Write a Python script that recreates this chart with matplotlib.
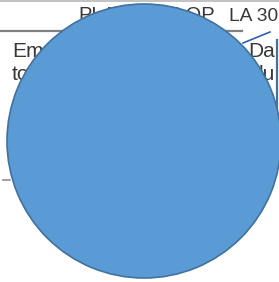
import matplotlib
matplotlib.use("Agg")
import matplotlib.pyplot as plt
from matplotlib.lines import Line2D

# Data
categories = ["Total"]
values = [100]
slice_colors = ["#5B9BD5"]

W, H = 279, 282
fig = plt.figure(figsize=(W / 100, H / 100), dpi=100)
fig.patch.set_facecolor("white")

def fx(px):
    return px / W

def fy(py):
    return 1 - py / H

# background slide elements (behind the pie)
fig.add_artist(Line2D([0, 1], [fy(0.5), fy(0.5)], color="#b8b8b8", lw=1.2, zorder=0))
fig.add_artist(Line2D([fx(0), fx(242)], [fy(30.5), fy(30.5)], color="#6a6a6a", lw=1.6, zorder=0, alpha=0.85))
fig.add_artist(Line2D([fx(243), fx(270)], [fy(43), fy(32)], color="#2f5fb0", lw=1.2, zorder=0))
fig.add_artist(Line2D([fx(3), fx(10)], [fy(180), fy(180)], color="#909090", lw=1.2, zorder=0))
fig.add_artist(Line2D([fx(276.5), fx(276.5), fx(280)], [fy(40), fy(147), fy(147)],
                      color="#41719C", lw=1.6, zorder=0))

tc = "#383838"
fam = ["Liberation Sans", "DejaVu Sans"]
kw = dict(family=fam, color=tc, va="baseline", zorder=0)
fig.text(fx(78), fy(21), "PLAN", fontsize=14.5, ha="left", **kw)
fig.text(fx(215), fy(21), "ELOP", fontsize=14.5, ha="right", **kw)
fig.text(fx(229), fy(21), "LA 30", fontsize=13.8, ha="left", **kw)
fig.text(fx(12), fy(57), "Employees", fontsize=15, ha="left", **kw)
fig.text(fx(12), fy(80), "total", fontsize=15, ha="left", **kw)
fig.text(fx(248), fy(57), "Da", fontsize=15, ha="left", **kw)
fig.text(fx(251), fy(80), "du", fontsize=15, ha="left", **kw)

# pie chart with a single slice
cx, cy, r = 144, 141, 137
ax = fig.add_axes([fx(cx - r), fy(cy + r), (2 * r) / W, (2 * r) / H])
ax.set_zorder(5)
ax.patch.set_visible(False)
wedges, _ = ax.pie(values, labels=None, colors=slice_colors, startangle=90,
                   wedgeprops=dict(edgecolor="#41719C", linewidth=1.2))
for w in wedges:
    w.set_clip_on(False)
ax.set_xlim(-1, 1)
ax.set_ylim(-1, 1)
ax.set_aspect("auto")
ax.axis("off")

fig.savefig("out.png", dpi=100, facecolor="white")
